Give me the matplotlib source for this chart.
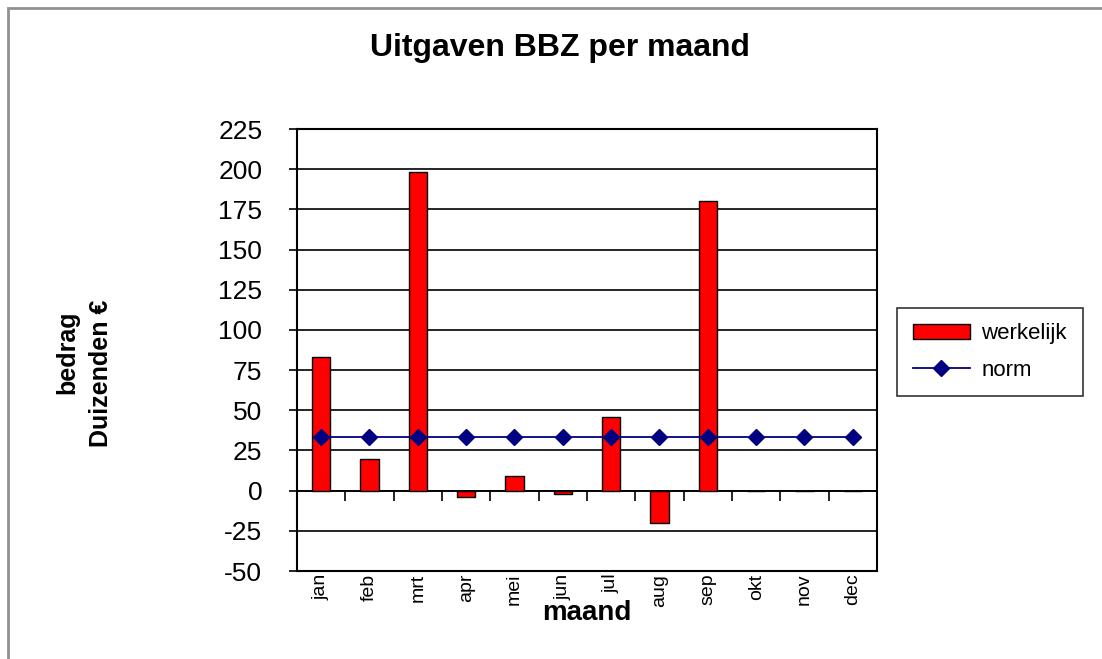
import matplotlib
matplotlib.use('Agg')
import matplotlib.pyplot as plt
import numpy as np
from matplotlib.patches import Rectangle

# Data
maanden = ['jan', 'feb', 'mrt', 'apr', 'mei', 'jun', 'jul', 'aug', 'sep', 'okt', 'nov', 'dec']
werkelijk = [83, 20, 198, -4, 9, -2, 46, -20, 180, 0, 0, 0]
norm = [33.3] * 12
y_ticks = [-50, -25, 0, 25, 50, 75, 100, 125, 150, 175, 200, 225]

plt.rcParams['font.family'] = ['Liberation Sans', 'DejaVu Sans']
plt.rcParams['axes.unicode_minus'] = False

fig = plt.figure(figsize=(11.02, 6.59), dpi=100)
ax = fig.add_axes([0.2695, 0.1335, 0.5263, 0.6707])

x = np.arange(len(maanden))
ax.bar(x, werkelijk, width=0.38, color='#ff0000', edgecolor='black', linewidth=1,
       label='werkelijk', zorder=3)
ax.plot(x, norm, color='#000080', linewidth=1.3, marker='D', markersize=8,
        label='norm', zorder=4)

ax.set_xlim(-0.5, len(maanden) - 0.5)
ax.set_ylim(-50, 225)
ax.set_yticks(y_ticks)
ax.tick_params(axis='y', labelsize=19, length=6, width=1.2, direction='out', pad=19)
ax.yaxis.grid(True, color='black', linewidth=1.2)
ax.set_axisbelow(True)

ax.set_xticks(x)
ax.set_xticklabels(maanden, rotation=90, fontsize=14)
ax.tick_params(axis='x', length=0, pad=2)

for s in ax.spines.values():
    s.set_linewidth(1.5)

# categorie-as op nul met streepjes tussen de maanden
zero_ax = ax.secondary_xaxis(50 / 275)
zero_ax.set_xticks(np.arange(-0.5, len(maanden)), labels=[''] * (len(maanden) + 1))
zero_ax.tick_params(axis='x', length=7, width=1.2, direction='out')
zero_ax.spines['bottom'].set_linewidth(1.2)

ax.set_xlabel('maand', fontsize=20, fontweight='bold', labelpad=-5)

fig.text(0.508, 0.927, 'Uitgaven BBZ per maand', fontsize=23, fontweight='bold',
         ha='center', va='center')
fig.text(0.061, 0.466, 'bedrag', fontsize=18, fontweight='bold', rotation=90,
         ha='center', va='center')
fig.text(0.092, 0.434, 'Duizenden €', fontsize=18, fontweight='bold', rotation=90,
         ha='center', va='center')

handles, labels = ax.get_legend_handles_labels()
order = [labels.index('werkelijk'), labels.index('norm')]
leg = ax.legend([handles[i] for i in order], [labels[i] for i in order],
                loc='upper left', bbox_to_anchor=(0.814, 0.533), bbox_transform=fig.transFigure,
                borderaxespad=0, fontsize=16, frameon=True, fancybox=False, edgecolor='black',
                handlelength=2.6, labelspacing=0.7, borderpad=0.7, handleheight=0.6,
                handletextpad=0.5)
leg.get_frame().set_linewidth(1.2)

# grijze rand rond de grafiek
fig.patches.append(Rectangle((8 / 1102, -0.1), 1.2, 1 - 8 / 659 + 0.1, transform=fig.transFigure,
                             fill=False, edgecolor='#909090', linewidth=2))

fig.savefig('out.png', dpi=100)
